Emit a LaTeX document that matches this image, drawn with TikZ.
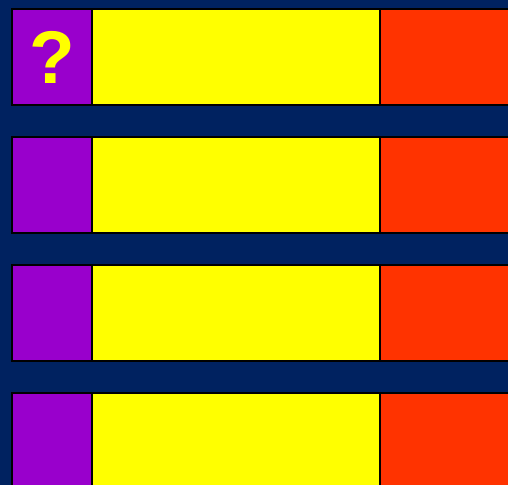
\documentclass[tikz,border=0pt]{standalone}
\usepackage{fontspec}
\setmainfont{Liberation Sans}
\usetikzlibrary{positioning}
\definecolor{bgblue}{RGB}{0,34,96}
\definecolor{cpurple}{RGB}{153,0,204}
\definecolor{cyellow}{RGB}{255,255,0}
\definecolor{cred}{RGB}{255,51,0}
\tikzset{
  cell/.style={draw=black, line width=1.5pt, inner sep=0pt, outer sep=0pt,
               minimum height=72pt},
  numcell/.style={cell, fill=cpurple, minimum width=60pt,
               font=\fontsize{56}{56}\selectfont\bfseries, text=cyellow},
  qcell/.style={cell, fill=cyellow, minimum width=216pt},
  acell/.style={cell, fill=cred, minimum width=120pt},
}

\begin{document}
\begin{tikzpicture}[x=0.75pt, y=-0.75pt]
  \clip (0,0) rectangle (508,485);
  \fill[bgblue] (0,0) rectangle (508,485);
  % four rows of cells
  \foreach \r in {0,1,2,3} {
    \node[numcell, anchor=north west] (num\r) at (12,9+128*\r) {};
    \node[qcell, right=0pt of num\r] (q\r) {};
    \node[acell, right=0pt of q\r] (ans\r) {};
  }
  \node[text=cyellow, font=\fontsize{56}{56}\selectfont\bfseries] (mark) at (num0.center) {?};
\end{tikzpicture}
\end{document}
